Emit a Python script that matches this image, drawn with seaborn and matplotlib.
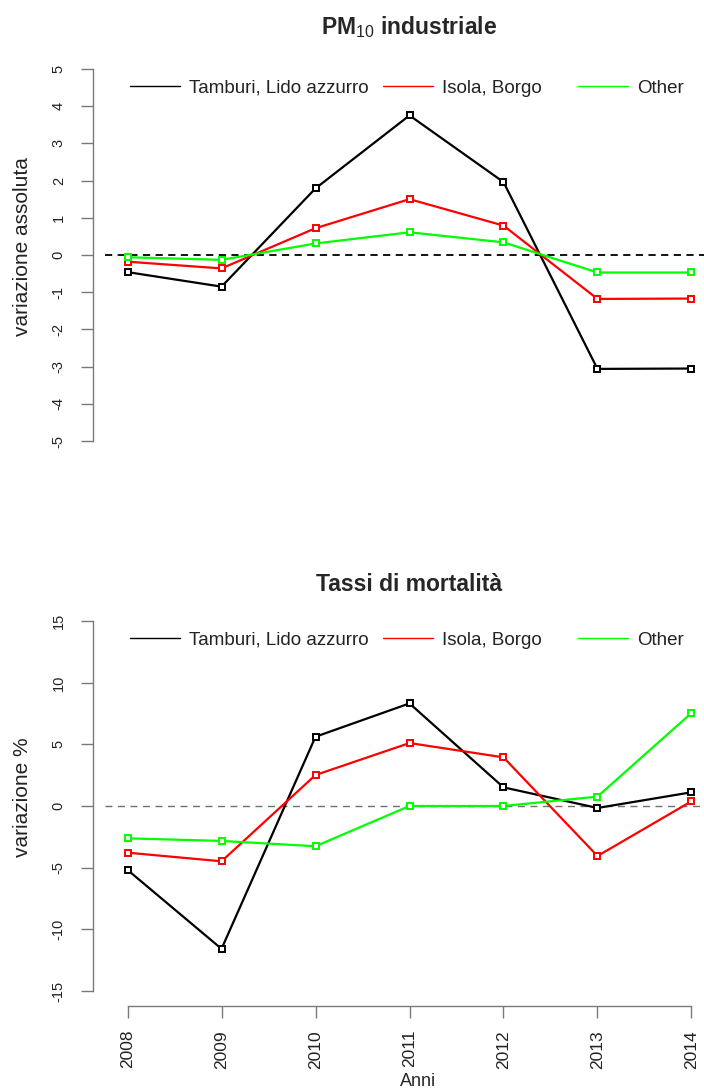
import matplotlib
matplotlib.use("Agg")
import matplotlib.pyplot as plt
from matplotlib.lines import Line2D
import seaborn as sns
import pandas as pd

# ---------------- data ----------------
anni = [2008, 2009, 2010, 2011, 2012, 2013, 2014]
zone = ["Tamburi, Lido azzurro", "Isola, Borgo", "Other"]
colori = ["#000000", "#FF0000", "#00FF00"]

pm10_tamburi = [-0.46, -0.85, 1.79, 3.75, 1.96, -3.06, -3.05]
pm10_isola = [-0.18, -0.36, 0.72, 1.50, 0.79, -1.18, -1.17]
pm10_other = [-0.06, -0.13, 0.31, 0.61, 0.34, -0.47, -0.47]

mort_tamburi = [-5.18, -11.57, 5.61, 8.31, 1.51, -0.16, 1.11]
mort_isola = [-3.78, -4.48, 2.51, 5.10, 3.94, -4.05, 0.38]
mort_other = [-2.62, -2.83, -3.26, 0.0, 0.0, 0.76, 7.53]

titolo_pm = "PM$_{10}$ industriale"
titolo_mort = "Tassi di mortalità"
ylab_pm = "variazione assoluta"
ylab_mort = "variazione %"
xlab = "Anni"
yticks_pm = [-5, -4, -3, -2, -1, 0, 1, 2, 3, 4, 5]
yticks_mort = [-15, -10, -5, 0, 5, 10, 15]


def long_df(series):
    rows = []
    for z, vals in zip(zone, series):
        for a, v in zip(anni, vals):
            rows.append({"anno": a, "valore": v, "zona": z})
    return pd.DataFrame(rows)


df_pm = long_df([pm10_tamburi, pm10_isola, pm10_other])
df_mort = long_df([mort_tamburi, mort_isola, mort_other])

# ---------------- style ----------------
sns.set_theme(style="white")
plt.rcParams["font.family"] = ["Liberation Sans", "DejaVu Sans"]
plt.rcParams["mathtext.fontset"] = "custom"
plt.rcParams["mathtext.rm"] = "Liberation Sans"
plt.rcParams["mathtext.it"] = "Liberation Sans:italic"
plt.rcParams["mathtext.bf"] = "Liberation Sans:bold"
plt.rcParams["axes.unicode_minus"] = False

palette = dict(zip(zone, colori))
AX_GRAY = "#7a7a7a"

fig = plt.figure(figsize=(7.04, 10.91), dpi=100)
W, H = 704, 1091

# axes positions (pixels -> fraction)
ax_top = fig.add_axes([105 / W, (H - 456) / H, 609 / W, 402 / H])
ax_bot = fig.add_axes([105 / W, (H - 1006) / H, 609 / W, 400 / H])


def draw_panel(ax, df, ylim, yticks, zero_style):
    ax.axhline(0, zorder=1, **zero_style)
    sns.lineplot(data=df, x="anno", y="valore", hue="zona", hue_order=zone,
                 palette=palette, estimator=None, sort=False, lw=1.6,
                 legend=False, ax=ax, zorder=2)
    for z in zone:
        sub = df[df["zona"] == z]
        ax.plot(sub["anno"], sub["valore"], ls="none", marker="s",
                ms=4.3, mfc="white", mec=palette[z], mew=1.4, zorder=4,
                clip_on=False)
    ax.set_xlim(2007.76, 2014.24)
    ax.set_ylim(*ylim)
    ax.set_yticks(yticks)
    ax.set_yticklabels([str(t) for t in yticks])
    ax.spines["top"].set_visible(False)
    ax.spines["right"].set_visible(False)
    ax.spines["left"].set_bounds(yticks[0], yticks[-1])
    ax.spines["left"].set_position(("outward", 8.6))
    ax.spines["left"].set_color(AX_GRAY)
    ax.spines["left"].set_linewidth(1.0)
    ax.tick_params(axis="y", left=True, length=8.6, width=1.0,
                   color=AX_GRAY, labelrotation=90, labelsize=10.5,
                   pad=11, labelcolor="#222222")
    for lab in ax.get_yticklabels():
        lab.set_va("center")
    ax.set_xlabel("")


draw_panel(ax_top, df_pm, (-5.4, 5.4), yticks_pm,
           dict(color="black", lw=1.3, ls=(0, (4, 3))))
draw_panel(ax_bot, df_mort, (-16.2, 16.2), yticks_mort,
           dict(color="#707070", lw=1.0, ls=(0, (5, 4))))

# top: no x axis
ax_top.spines["bottom"].set_visible(False)
ax_top.set_xticks([])

# bottom: R-style x axis
ax_bot.set_xticks(anni)
ax_bot.set_xticklabels([str(a) for a in anni])
ax_bot.spines["bottom"].set_bounds(anni[0], anni[-1])
ax_bot.spines["bottom"].set_color(AX_GRAY)
ax_bot.spines["bottom"].set_linewidth(1.0)
ax_bot.tick_params(axis="x", bottom=True, length=8.6, width=1.0,
                   color=AX_GRAY, labelrotation=90, labelsize=12.5,
                   pad=8.6, labelcolor="#222222")
ax_bot.set_xlabel(xlab, fontsize=13)
ax_bot.xaxis.set_label_coords(0.514, -0.168)

# y labels
ax_top.set_ylabel(ylab_pm, fontsize=15, color="#222222")
ax_top.yaxis.set_label_coords(-0.12, 0.522)
ax_bot.set_ylabel(ylab_mort, fontsize=15, color="#222222")
ax_bot.yaxis.set_label_coords(-0.12, 0.522)

# titles
ax_top.set_title(titolo_pm, fontsize=16.5, fontweight="bold", pad=14.4)
ax_bot.set_title(titolo_mort, fontsize=16.5, fontweight="bold", pad=10.8)

# legends (R-style horizontal, no box), one per entry for exact placement
leg_x = [130, 383, 578]
for ax, ycen in [(ax_top, 88), (ax_bot, 640)]:
    for z, c, xp in zip(zone, colori, leg_x):
        h = Line2D([], [], color=c, lw=1.0)
        fig.legend([h], [z], loc="center left",
                   bbox_to_anchor=(xp / W, 1 - ycen / H),
                   frameon=False, fontsize=13.5, borderpad=0,
                   borderaxespad=0, handlelength=2.67, handletextpad=0.48,
                   labelcolor="#222222")

fig.savefig("out.png", dpi=100)
